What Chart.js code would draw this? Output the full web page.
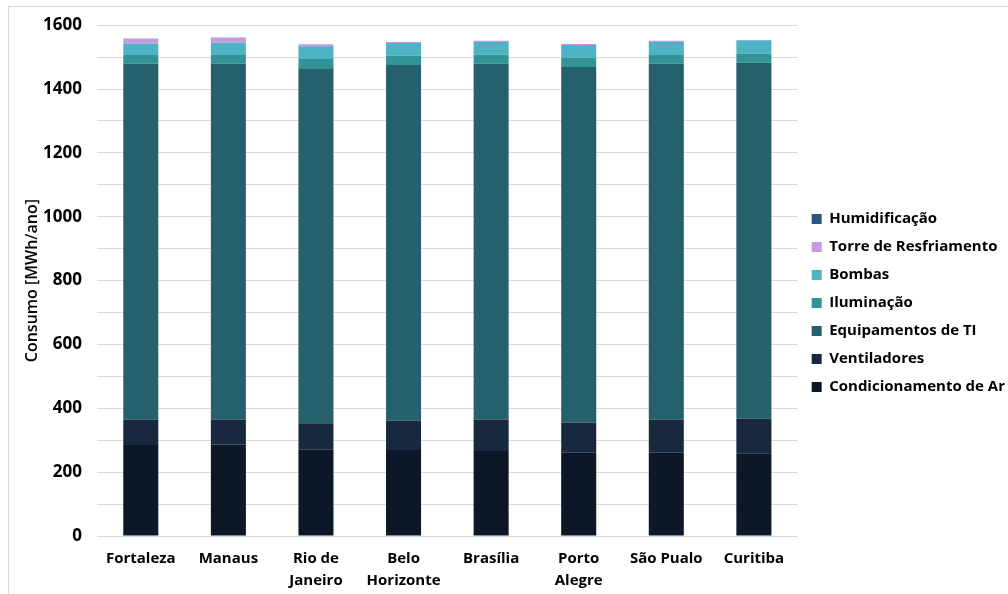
<!DOCTYPE html>
<html>
<head>
<meta charset="utf-8">
<script src="https://cdn.jsdelivr.net/npm/chart.js@4.4.1/dist/chart.umd.min.js"></script>
<style>
  html, body { margin: 0; padding: 0; background: #fff; }
  #wrap { position: relative; width: 1008px; height: 594px; overflow: hidden; }
  #frame { position: absolute; left: 8px; top: 6px; width: 1100px; height: 700px;
           border-left: 1px solid #d9d9d9; border-top: 1px solid #d9d9d9; }
  canvas { position: absolute; left: 0; top: 0; }
</style>
</head>
<body>
<div id="wrap">
  <div id="frame"></div>
  <canvas id="chart" width="1008" height="594"></canvas>
</div>
<script>
// Cities (x categories)
const cidades = ['Fortaleza', 'Manaus', ['Rio de', 'Janeiro'], ['Belo', 'Horizonte'],
                 'Brasília', ['Porto', 'Alegre'], 'São Pualo', 'Curitiba'];

// Annual consumption per end use [MWh/ano]
const condicionamentoAr = [285, 287, 270, 269, 266, 261, 261, 259];
const ventiladores      = [79, 77, 83, 92, 99, 94, 104, 109];
const equipamentosTI    = [1115, 1115, 1112, 1114, 1114, 1114, 1114, 1114];
const iluminacao        = [28, 28, 29, 29, 29, 29, 28, 29];
const bombas            = [35, 38, 40, 40, 39, 40, 40, 41];
const torreResfriamento = [15, 15, 6, 3, 4, 3, 4, 1];
const humidificacao     = [0.5, 0.5, 0.5, 0.5, 0.5, 0.5, 0.5, 0.5];

// Y axis: gridline every 100, label every 200
const yMax = 1600;
const yStep = 100;
const yLabelEvery = 200;

const FONT = "'Open Sans', 'Noto Sans', sans-serif";

const series = [
  { label: 'Condicionamento de Ar', data: condicionamentoAr, color: '#0c1828' },
  { label: 'Ventiladores',          data: ventiladores,      color: '#18293f' },
  { label: 'Equipamentos de TI',    data: equipamentosTI,    color: '#25616c' },
  { label: 'Iluminação',            data: iluminacao,        color: '#339497' },
  { label: 'Bombas',                data: bombas,            color: '#4eb3c4' },
  { label: 'Torre de Resfriamento', data: torreResfriamento, color: '#c49be0' },
  { label: 'Humidificação',         data: humidificacao,     color: '#2a5783' }
];

// Nudge the legend a little away from the plot area
const legendGap = {
  id: 'legendGap',
  afterLayout(chart) {
    const lg = chart.legend;
    if (lg) { lg.left += 1; lg.right += 1; }
  }
};

new Chart(document.getElementById('chart'), {
  type: 'bar',
  plugins: [legendGap],
  data: {
    labels: cidades,
    datasets: series.map(s => ({
      label: s.label,
      data: s.data,
      backgroundColor: s.color,
      borderWidth: 0,
      categoryPercentage: 1.0,
      barPercentage: 0.4
    }))
  },
  options: {
    responsive: false,
    animation: false,
    devicePixelRatio: 1,
    layout: { padding: { left: 20, right: -6, top: 12, bottom: 0 } },
    plugins: {
      tooltip: { enabled: false },
      legend: {
        position: 'right',
        reverse: true,
        align: 'center',
        labels: {
          boxWidth: 10,
          boxHeight: 10,
          padding: 13,
          color: '#000',
          font: { family: FONT, size: 15, weight: 'bold' }
        }
      }
    },
    scales: {
      x: {
        stacked: true,
        grid: { display: false },
        border: { display: false },
        ticks: {
          color: '#000',
          padding: 4,
          maxRotation: 0,
          autoSkip: false,
          font: { family: FONT, size: 15, weight: 'bold', lineHeight: 1.45 }
        },
        afterFit: a => { a.height = 58; }
      },
      y: {
        stacked: true,
        min: 0,
        max: yMax,
        grid: { color: '#d9d9d9', lineWidth: 1, drawTicks: false },
        border: { display: false },
        ticks: {
          stepSize: yStep,
          color: '#000',
          padding: 15,
          font: { family: FONT, size: 17, weight: 'bold' },
          callback: v => (v % yLabelEvery === 0 ? String(v) : '')
        },
        title: {
          display: true,
          text: 'Consumo [MWh/ano]',
          color: '#000',
          padding: { top: 3, bottom: 4 },
          font: { family: FONT, size: 16, weight: '600' }
        },
        afterFit: a => { a.width = 77; }
      }
    }
  }
});
</script>
</body>
</html>
